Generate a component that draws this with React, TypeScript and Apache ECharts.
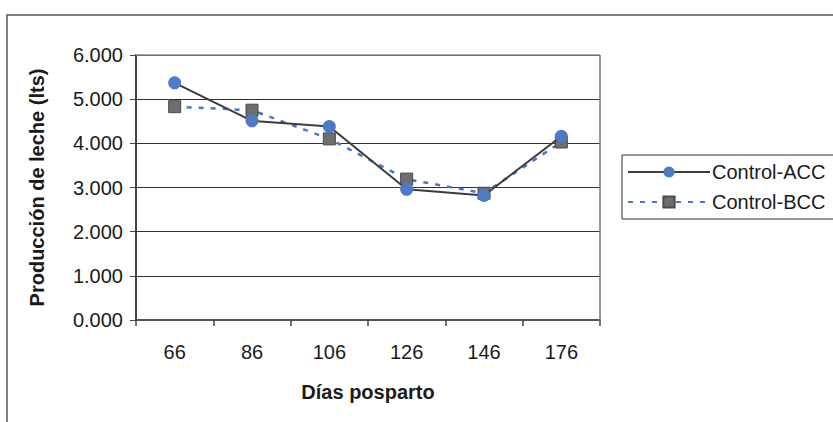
import React, { useEffect, useRef } from "react";
import * as echarts from "echarts";

const categories = ["66", "86", "106", "126", "146", "176"];
const controlACC = [5.37, 4.51, 4.38, 2.96, 2.82, 4.16];
const controlBCC = [4.83, 4.75, 4.1, 3.19, 2.87, 4.03];
const seriesNames = ["Control-ACC", "Control-BCC"];

const FONT = "'Liberation Sans', Arial, sans-serif";

export default function App() {
  const ref = useRef<HTMLDivElement>(null);
  useEffect(() => {
    if (!ref.current) return;
    const chart = echarts.init(ref.current, null, { renderer: "svg" });
    chart.setOption({
      animation: false,
      backgroundColor: "#ffffff",
      textStyle: { fontFamily: FONT },
      graphic: [
        {
          type: "rect",
          shape: { x: 7, y: 15, width: 840, height: 420 },
          style: { fill: "none", stroke: "#555", lineWidth: 1.5 },
          z: 0,
        },
        {
          type: "line",
          shape: { x1: 136, y1: 55, x2: 600, y2: 55 },
          style: { stroke: "#888", lineWidth: 1.5 },
          z: 1,
        },
        {
          type: "line",
          shape: { x1: 600, y1: 55, x2: 600, y2: 322 },
          style: { stroke: "#777", lineWidth: 1.5 },
          z: 1,
        },
      ],
      grid: { left: 136, right: 233, top: 55, bottom: 102, containLabel: false },
      legend: {
        orient: "vertical",
        left: 622,
        top: 155,
        data: seriesNames,
        itemWidth: 82,
        itemHeight: 14,
        itemGap: 10,
        padding: [7, 20, 7, 5],
        borderColor: "#333",
        borderWidth: 1,
        textStyle: { fontSize: 20, color: "#1a1a1a", fontFamily: FONT, padding: [0, 0, 0, -3] },
      },
      xAxis: {
        type: "category",
        data: categories,
        boundaryGap: true,
        name: "Días posparto",
        nameLocation: "middle",
        nameGap: 62,
        nameTextStyle: { fontSize: 20, fontWeight: "bold", color: "#1a1a1a", fontFamily: FONT },
        axisLine: { lineStyle: { color: "#555", width: 2 } },
        axisTick: { show: true, length: 6, lineStyle: { color: "#444", width: 1.5 } },
        axisLabel: { fontSize: 20, color: "#1a1a1a", margin: 22, fontFamily: FONT },
      },
      yAxis: {
        type: "value",
        min: 0,
        max: 6,
        interval: 1,
        name: "Producción de leche (lts)",
        nameLocation: "middle",
        nameGap: 89,
        nameTextStyle: { fontSize: 20, fontWeight: "bold", color: "#1a1a1a", fontFamily: FONT },
        axisLine: { show: true, lineStyle: { color: "#444", width: 2 } },
        axisTick: { show: true, length: 6, lineStyle: { color: "#444" } },
        axisLabel: {
          fontSize: 20,
          color: "#1a1a1a",
          margin: 13,
          fontFamily: FONT,
          formatter: (v: number) => v.toFixed(3),
        },
        splitLine: { show: true, lineStyle: { color: "#333", width: 1.2 } },
      },
      series: [
        {
          name: seriesNames[1],
          type: "line",
          data: controlBCC,
          symbol: "rect",
          symbolSize: 12,
          lineStyle: { color: "#4a76c9", width: 2.5, type: [5, 7] },
          itemStyle: { color: "#6e6e6e", borderColor: "#4a4a4a", borderWidth: 1 },
          z: 2,
        },
        {
          name: seriesNames[0],
          type: "line",
          data: controlACC,
          symbol: "circle",
          symbolSize: 13,
          lineStyle: { color: "#3d3d3d", width: 2 },
          itemStyle: { color: "#4f7ac8", borderWidth: 0 },
          z: 3,
        },
      ],
    });
    return () => chart.dispose();
  }, []);
  return (
    <div
      ref={ref}
      style={{ position: "fixed", left: 0, top: 0, width: 833, height: 422 }}
    />
  );
}
